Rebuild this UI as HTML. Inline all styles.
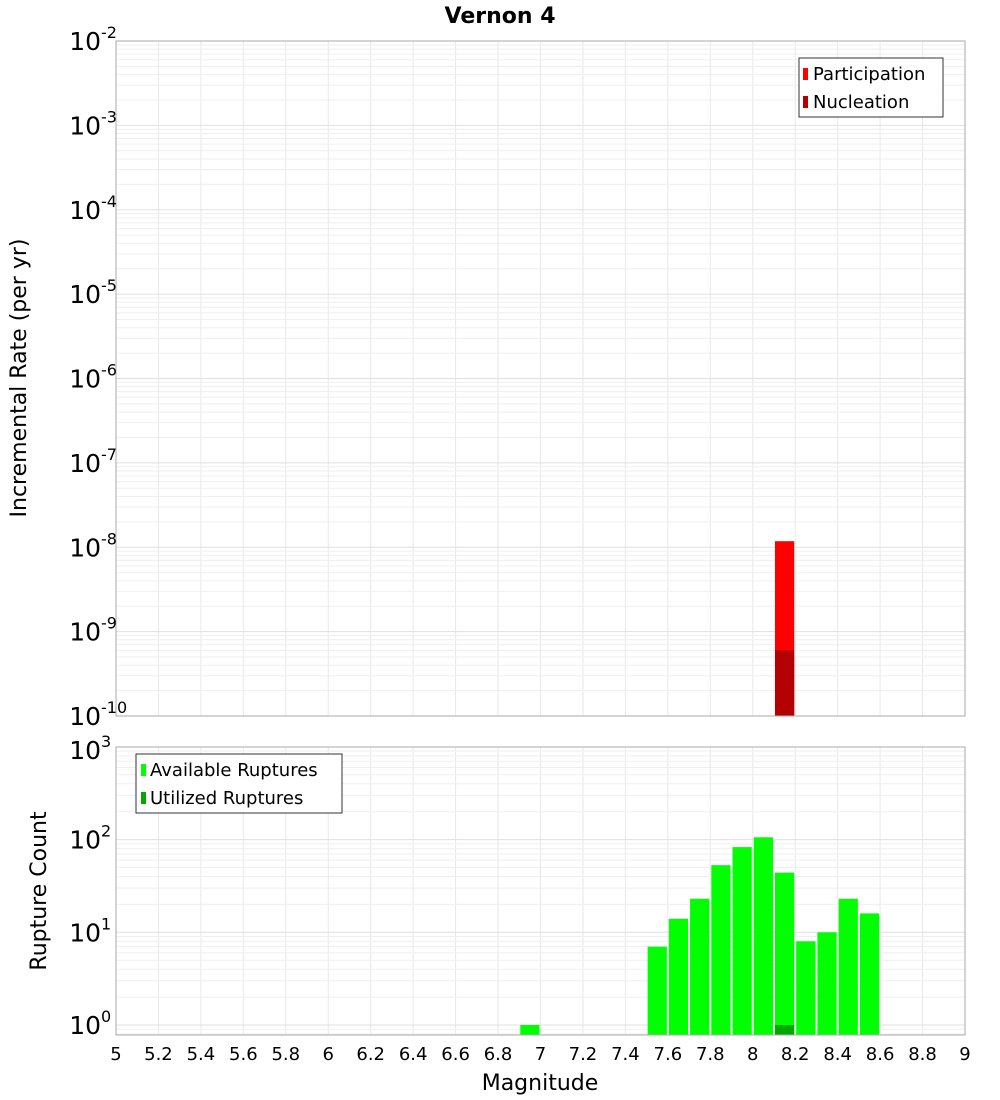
<!DOCTYPE html>
<html><head><meta charset="utf-8"><style>
html,body{margin:0;padding:0;background:#fff;}
svg{display:block;font-family:"DejaVu Sans","Liberation Sans",sans-serif;}
</style></head><body>
<svg id="chart" width="1000" height="1100" xmlns="http://www.w3.org/2000/svg">
<text x="500" y="23" text-anchor="middle" font-size="22" font-weight="bold">Vernon 4</text>
<text transform="translate(26,378) rotate(-90)" text-anchor="middle" font-size="22">Incremental Rate (per yr)</text>
<text transform="translate(46,891) rotate(-90)" text-anchor="middle" font-size="22">Rupture Count</text>
<text x="540" y="1090" text-anchor="middle" font-size="22">Magnitude</text>
<g id="g"></g>
<g>
<rect x="799" y="58" width="144" height="59" fill="#fff" stroke="#333" stroke-width="1"/>
<rect x="803" y="68" width="5" height="12" fill="#ff0000"/>
<text x="813" y="80" font-size="18">Participation</text>
<rect x="803" y="96" width="5" height="12" fill="#b30000"/>
<text x="813" y="108" font-size="18">Nucleation</text>
</g>
<g>
<rect x="136" y="754" width="206" height="59" fill="#fff" stroke="#333" stroke-width="1"/>
<rect x="141" y="764" width="5" height="12" fill="#00ff00"/>
<text x="150" y="776" font-size="18">Available Ruptures</text>
<rect x="141" y="792" width="5" height="12" fill="#00a800"/>
<text x="150" y="804" font-size="18">Utilized Ruptures</text>
</g>
</svg>
<script>
const partMags=[8.15];
const partRates=[1.18e-8];
const nuclMags=[8.15];
const nuclRates=[6e-10];
const availMags=[6.95,7.55,7.65,7.75,7.85,7.95,8.05,8.15,8.25,8.35,8.45,8.55];
const availCounts=[1,7,14,23,53,83,106,44,8,10,23,16];
const utilMags=[8.15];
const utilCounts=[1];
const xTicks=["5","5.2","5.4","5.6","5.8","6","6.2","6.4","6.6","6.8","7","7.2","7.4","7.6","7.8","8","8.2","8.4","8.6","8.8","9"];
const topExps=[-2,-3,-4,-5,-6,-7,-8,-9,-10];
const botExps=[3,2,1,0];

const NS="http://www.w3.org/2000/svg";
const g=document.getElementById('g');
const L=116,R=965,T1=41,B1=716,T2=747,B2=1035;
const x=m=>L+(m-5)/4*(R-L);
const yTop=v=>B1-(Math.log10(v)+10)*(B1-T1)/8;
const Y0=1025,DEC=92.7;
const yBot=v=>Y0-Math.log10(v)*DEC;
function el(t,a,p){const e=document.createElementNS(NS,t);for(const k in a)e.setAttribute(k,a[k]);(p||g).appendChild(e);return e;}

function grid(T,B,yf,emin,emax){
  for(let m=5.2;m<9;m+=0.2){const l=el('line',{x1:x(m),x2:x(m),y1:T,y2:B,stroke:'#e8e8e8'});
    
    }
  for(let e=emin;e<=emax;e++)for(let k=1;k<10;k++){const yy=yf(k*Math.pow(10,e));if(yy<T||yy>B)continue;
    const l=el('line',{x1:L,x2:R,y1:yy,y2:yy,stroke:k==1?'#e0e0e0':'#efefef'});
    
    }
}
grid(T1,B1,yTop,-10,-3);
grid(T2,B2,yBot,-1,2);

function bars(mags,vals,yf,base,color,name){
  mags.forEach((m,i)=>{const y=yf(vals[i]);
    const r=el('rect',{x:x(m-0.05)+1,y:y,width:x(m+0.05)-x(m-0.05)-2,height:base-y,fill:color});
    
    });
}
bars(partMags,partRates,yTop,B1,'#ff0000','participation-bar');
bars(nuclMags,nuclRates,yTop,B1,'#b30000','nucleation-bar');
bars(availMags,availCounts,yBot,B2,'#00ff00','available-bar');
bars(utilMags,utilCounts,yBot,B2,'#00a800','utilized-bar');

[[T1,B1,'top-plot-frame'],[T2,B2,'bottom-plot-frame']].forEach(([T,B,n])=>{
  const r=el('rect',{x:L,y:T,width:R-L,height:B-T,fill:'none',stroke:'#aaa'});
  
  });

xTicks.forEach(t=>{const tx=el('text',{x:x(parseFloat(t)),y:1060,'text-anchor':'middle','font-size':18});tx.textContent=t;
  
  });

function ylab(yy,e,name){
  const tx=el('text',{x:101,y:yy+9,'text-anchor':'end','font-size':25});tx.textContent='10';
  
  
  const s=el('text',{x:101,y:yy-3,'font-size':16});s.textContent=String(e);
  
  
}
topExps.forEach(e=>ylab(yTop(Math.pow(10,e)),e,'top-y-tick-label'));
botExps.forEach(e=>ylab(e==3?T2+3:yBot(Math.pow(10,e)),e,'bottom-y-tick-label'));
</script>
</body></html>
